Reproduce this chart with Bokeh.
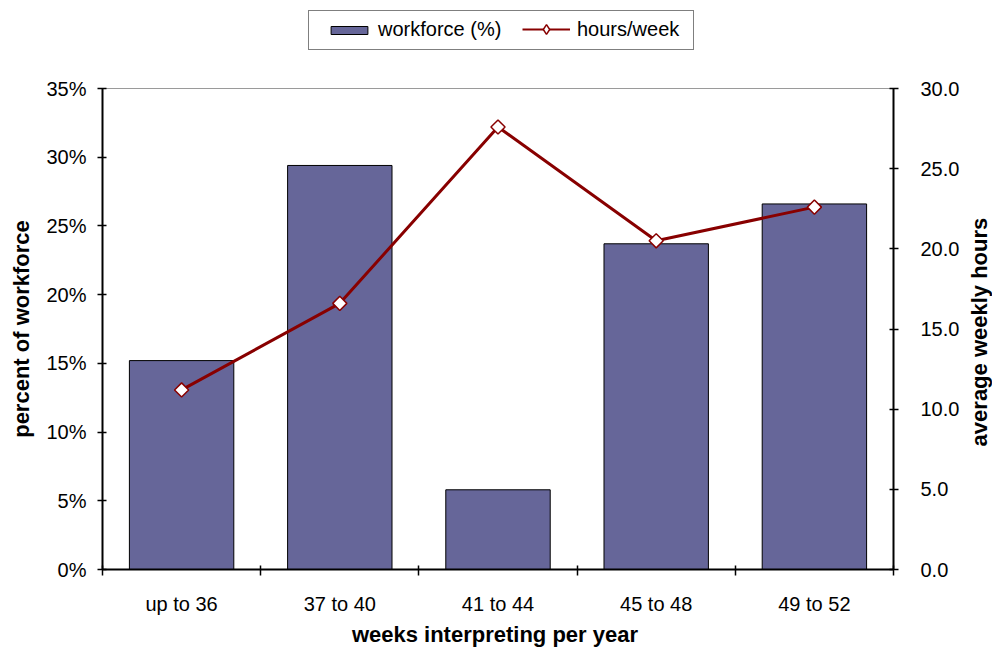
import math
from bokeh.plotting import figure
from bokeh.layouts import column, row
from bokeh.models import (Range1d, LinearAxis, FixedTicker, PrintfTickFormatter,
                          Legend, LegendItem)
from bokeh.embed import file_html
from bokeh.resources import INLINE

# ---- data ----
categories = ["up to 36", "37 to 40", "41 to 44", "45 to 48", "49 to 52"]
workforce_pct = [15.2, 29.4, 5.8, 23.7, 26.6]
hours_week = [11.2, 16.6, 27.6, 20.5, 22.6]
pct_ticks = [0, 5, 10, 15, 20, 25, 30, 35]
hour_ticks = [0, 5, 10, 15, 20, 25, 30]

# ---- style ----
BAR = "#666699"
RED = "#880000"
FONT = "Liberation Sans"
W = 992
TOP_H = 73
MAIN_W = 962
STRIP_W = W - MAIN_W
MAIN_H = 649 - TOP_H
BORDER_TOP = 88 - TOP_H
BORDER_BOTTOM = 80

xc = [i + 0.5 for i in range(len(categories))]
bounds = list(range(len(categories) + 1))


def bare(fig):
    fig.xgrid.visible = False
    fig.ygrid.visible = False
    fig.background_fill_color = "white"
    fig.border_fill_color = "white"


# ---------------- legend strip (top) ----------------
# its ranges lie away from all data, so the legend-only renderers stay hidden
top = figure(width=W, height=TOP_H, x_range=Range1d(-3, -2), y_range=Range1d(-3, -2),
             output_backend="svg", toolbar_location=None,
             min_border_left=102, min_border_right=0, min_border_top=0,
             min_border_bottom=0, x_axis_location=None, y_axis_location=None)
bare(top)
top.outline_line_color = None
top.title.visible = False

dummy = top.scatter(x=xc, y=hours_week, marker="square", fill_alpha=0, line_alpha=0)
leg_bar = top.vbar(x=xc, top=workforce_pct, width=0.5, fill_color=BAR,
                   line_color="black", line_width=1)
leg_line = top.line(x=xc, y=hours_week, line_color=RED, line_width=2)
leg_dia = top.scatter(x=xc, y=hours_week, marker="diamond", size=10,
                      fill_color="white", line_color=RED, line_width=1.5)

frame_leg = Legend(items=[LegendItem(label=" ", renderers=[dummy])],
                   location=(206, 23), orientation="horizontal",
                   glyph_width=364, glyph_height=18, padding=10, margin=0,
                   label_width=0, label_standoff=0, label_height=18,
                   label_text_font_size="6px",
                   border_line_color="black", border_line_width=1.5,
                   background_fill_color="white", background_fill_alpha=1)
top.add_layout(frame_leg)

bar_leg = Legend(items=[LegendItem(label="workforce (%)", renderers=[leg_bar])],
                 location=(224, 32), glyph_width=46, glyph_height=10,
                 padding=0, margin=0, label_standoff=6, label_height=22,
                 label_text_font=FONT, label_text_font_size="20px",
                 label_text_color="black",
                 border_line_color=None, background_fill_alpha=0)
top.add_layout(bar_leg)

line_leg = Legend(items=[LegendItem(label="hours/week",
                                    renderers=[leg_line, leg_dia])],
                  location=(420, 32), glyph_width=48, glyph_height=24,
                  padding=0, margin=0, label_standoff=7, label_height=22,
                  label_text_font=FONT, label_text_font_size="20px",
                  label_text_color="black",
                  border_line_color=None, background_fill_alpha=0)
top.add_layout(line_leg)

# ---------------- main chart ----------------
p = figure(width=MAIN_W, height=MAIN_H, x_range=Range1d(0, len(categories)),
           y_range=Range1d(0, 35), output_backend="svg", toolbar_location=None,
           min_border_left=102, min_border_right=MAIN_W - 894,
           min_border_top=BORDER_TOP, min_border_bottom=BORDER_BOTTOM,
           x_axis_location=None, y_axis_location=None)
p.extra_y_ranges = {"hours": Range1d(0, 30)}
bare(p)
p.outline_line_color = "#9a9a9a"
p.outline_line_width = 1


def style_axis(ax):
    ax.axis_line_color = "black"
    ax.axis_line_width = 2
    ax.major_tick_line_color = "black"
    ax.major_tick_line_width = 1.5
    ax.minor_tick_line_color = None
    ax.major_label_text_font = FONT
    ax.major_label_text_font_size = "20px"
    ax.major_label_text_color = "black"
    ax.axis_label_text_font = FONT
    ax.axis_label_text_font_size = "22px"
    ax.axis_label_text_font_style = "bold"
    ax.axis_label_text_color = "black"


# left axis
la = LinearAxis(ticker=FixedTicker(ticks=pct_ticks),
                formatter=PrintfTickFormatter(format="%d%%"),
                axis_label="percent of workforce")
style_axis(la)
la.major_tick_out = 5
la.major_tick_in = 4
la.major_label_standoff = 11
la.axis_label_standoff = 9
p.add_layout(la, "left")

# right axis (ticks and labels; its title lives in the strip to the right)
ra = LinearAxis(y_range_name="hours", ticker=FixedTicker(ticks=hour_ticks),
                formatter=PrintfTickFormatter(format="%.1f"))
style_axis(ra)
ra.major_tick_out = 5
ra.major_tick_in = 4
ra.major_label_standoff = 22
p.add_layout(ra, "right")

# bottom axis: labels at centres, ticks at category boundaries (minor ticks)
ba = LinearAxis(ticker=FixedTicker(ticks=xc, minor_ticks=bounds),
                major_label_overrides={v: c for v, c in zip(xc, categories)},
                axis_label="weeks interpreting  per year")
style_axis(ba)
ba.major_tick_out = 0
ba.major_tick_in = 0
ba.minor_tick_line_color = "black"
ba.minor_tick_line_width = 1.5
ba.minor_tick_out = 6
ba.minor_tick_in = 4
ba.major_label_standoff = 17
ba.axis_label_standoff = 4
p.add_layout(ba, "below")

# bars
p.vbar(x=xc, top=workforce_pct, width=0.66, fill_color=BAR,
       line_color="black", line_width=1)

# line with markers
p.line(x=xc, y=hours_week, y_range_name="hours", line_color=RED, line_width=3)
p.scatter(x=xc, y=hours_week, y_range_name="hours", marker="square",
          angle=math.pi / 4, size=10, fill_color="white",
          line_color=RED, line_width=1.5)

# ---------------- right title strip ----------------
strip = figure(width=STRIP_W, height=MAIN_H, x_range=Range1d(0, 1),
               y_range=Range1d(0, 1), output_backend="svg", toolbar_location=None,
               min_border_left=STRIP_W - 1, min_border_right=0,
               min_border_top=BORDER_TOP, min_border_bottom=BORDER_BOTTOM,
               x_axis_location=None, y_axis_location=None)
bare(strip)
strip.outline_line_color = None
ta = LinearAxis(ticker=FixedTicker(ticks=[]), axis_label="average weekly  hours")
style_axis(ta)
ta.axis_line_color = None
ta.major_tick_line_color = None
ta.major_tick_out = 0
ta.major_tick_in = 0
ta.major_label_standoff = 0
ta.axis_label_standoff = 0
strip.add_layout(ta, "left")

layout = column(top, row(p, strip, spacing=0), spacing=0)
open("out.html", "w").write(file_html(layout, INLINE))
